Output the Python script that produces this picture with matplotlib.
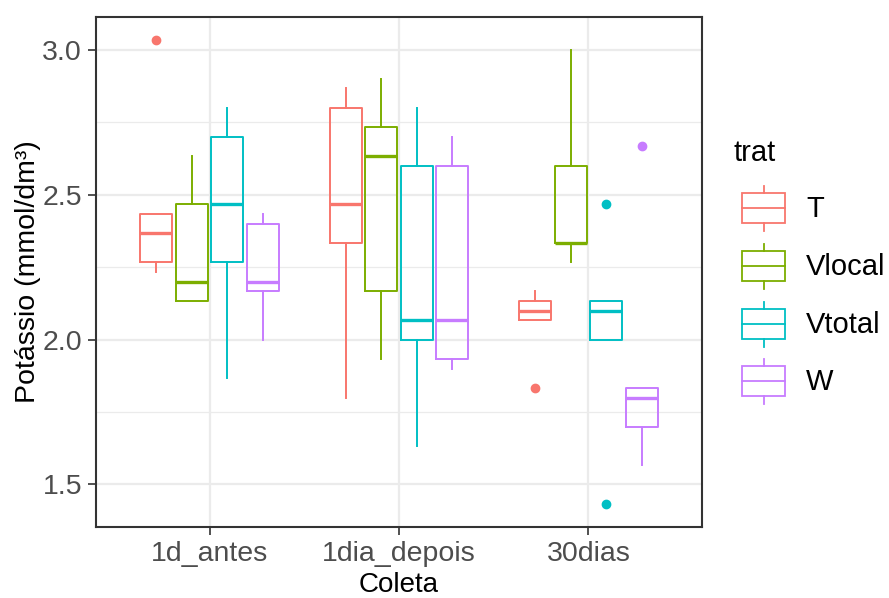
import numpy as np
import matplotlib.pyplot as plt
from matplotlib.patches import Rectangle

plt.rcParams['font.family'] = ['Liberation Sans', 'DejaVu Sans']

# Potássio por coleta e tratamento (estatísticas das caixas)
coleta = ['1d_antes', '1dia_depois', '30dias']
trat = ['T', 'Vlocal', 'Vtotal', 'W']
cores = ['#F8766D', '#7CAE00', '#00BFC4', '#C77CFF']

# linhas = tratamento, colunas = coleta
whis_lo = [
    [2.2333, 1.8000, 2.0667],
    [2.1333, 1.9333, 2.2667],
    [1.8667, 1.6333, 2.0000],
    [2.0000, 1.9000, 1.5667],
]
q1 = [
    [2.2667, 2.3333, 2.0667],
    [2.1333, 2.1667, 2.3333],
    [2.2667, 2.0000, 2.0000],
    [2.1667, 1.9333, 1.7000],
]
mediana = [
    [2.3667, 2.4667, 2.1000],
    [2.2000, 2.6333, 2.3333],
    [2.4667, 2.0667, 2.1000],
    [2.2000, 2.0667, 1.8000],
]
q3 = [
    [2.4333, 2.8000, 2.1333],
    [2.4667, 2.7333, 2.6000],
    [2.7000, 2.6000, 2.1333],
    [2.4000, 2.6000, 1.8333],
]
whis_hi = [
    [2.4333, 2.8667, 2.1667],
    [2.6333, 2.9000, 3.0000],
    [2.8000, 2.8000, 2.1333],
    [2.4333, 2.7000, 1.8333],
]
outliers = [
    [[3.0333], [], [1.8333]],
    [[], [], []],
    [[], [], [2.4667, 1.4333]],
    [[], [], [2.6667]],
]

W, H = 889, 598
fig = plt.figure(figsize=(W / 100, H / 100), dpi=100)
px = lambda x0, y0, x1, y1: [x0 / W, 1 - y1 / H, (x1 - x0) / W, (y1 - y0) / H]
ax = fig.add_axes(px(96, 17, 702, 527))

dodge = 0.75 / len(trat)
for j, t in enumerate(trat):
    stats = []
    for i in range(len(coleta)):
        stats.append(dict(whislo=whis_lo[j][i], q1=q1[j][i], med=mediana[j][i],
                          q3=q3[j][i], whishi=whis_hi[j][i], fliers=outliers[j][i]))
    pos = np.arange(1, len(coleta) + 1) - 0.375 + dodge * (j + 0.5)
    c = cores[j]
    ax.bxp(stats, positions=pos, widths=dodge * 0.9, showcaps=False,
           patch_artist=False,
           boxprops=dict(color=c, linewidth=1.4),
           whiskerprops=dict(color=c, linewidth=1.4),
           medianprops=dict(color=c, linewidth=2.4, solid_capstyle='butt'),
           flierprops=dict(marker='o', markerfacecolor=c, markeredgecolor=c,
                           markersize=6, linestyle='none'),
           zorder=3)

ax.set_xticks(range(1, len(coleta) + 1))
ax.set_xticklabels(coleta)
ax.set_yticks([1.5, 2.0, 2.5, 3.0])
ax.set_yticks([1.75, 2.25, 2.75], minor=True)
ax.set_yticklabels(['1.5', '2.0', '2.5', '3.0'])

# escala contínua com expansão de 5%
todos = np.concatenate([np.ravel(whis_lo), np.ravel(whis_hi),
                        [v for linha in outliers for g in linha for v in g]])
lo, hi = todos.min(), todos.max()
pad = 0.05 * (hi - lo)
ax.set_ylim(lo - pad, hi + pad)
ax.set_xlim(0.4, len(coleta) + 0.6)

ax.tick_params(axis='both', which='major', labelsize=20.5, labelcolor='#4D4D4D',
               color='#333333', length=6, width=1.2, pad=4)
ax.tick_params(axis='y', which='minor', length=0)
ax.grid(True, which='major', color='#EBEBEB', linewidth=1.6, zorder=0)
ax.grid(True, which='minor', axis='y', color='#EBEBEB', linewidth=0.9, zorder=0)
ax.set_axisbelow(True)
for s in ax.spines.values():
    s.set_color('#333333')
    s.set_linewidth(1.5)

# títulos e legenda em coordenadas de pixel
ov = fig.add_axes([0, 0, 1, 1], zorder=5)
ov.set_xlim(0, W)
ov.set_ylim(H, 0)
ov.axis('off')
ov.text(399, 585, 'Coleta', fontsize=20, ha='center', va='center')
ov.text(28, 272, 'Potássio (mmol/dm³)', fontsize=20.5, ha='center',
        va='center', rotation=90)

ov.text(733, 153, 'trat', fontsize=21, ha='left', va='center')
for k, t in enumerate(trat):
    yc = 208 + 57.8 * k
    c = cores[k]
    ov.add_patch(Rectangle((742, yc - 15), 43, 30, fill=False, edgecolor=c,
                           linewidth=1.3))
    ov.plot([742, 785], [yc, yc], color=c, linewidth=1.3)
    ov.plot([763.5, 763.5], [yc - 22, yc - 15], color=c, linewidth=1.3)
    ov.plot([763.5, 763.5], [yc + 15, yc + 23], color=c, linewidth=1.3)
    ov.text(806, yc + 1, t, fontsize=21, ha='left', va='center')

fig.savefig('out.png', dpi=100, facecolor='white')
